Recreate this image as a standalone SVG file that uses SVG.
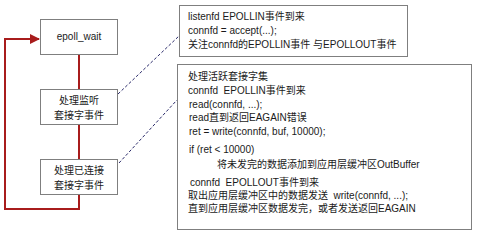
<svg xmlns="http://www.w3.org/2000/svg" width="478" height="240" viewBox="0 0 478 240">
  <defs>
    <style>
      .box { fill: #ffffff; stroke: #7f7f7f; stroke-width: 1; }
      .t { font-family: "Liberation Sans", "Noto Sans CJK SC", sans-serif; font-size: 10px; fill: #1a1a1a; white-space: pre; }
      .c { text-anchor: middle; }
      .flow { fill: none; stroke: #a81c1c; stroke-width: 2; }
      .dash { fill: none; stroke: #2a2a6a; stroke-width: 1; stroke-dasharray: 3 2; }
    </style>
    <marker id="arrow" markerWidth="10" markerHeight="10" refX="9" refY="5" orient="auto" markerUnits="userSpaceOnUse">
      <path d="M0,0 L10,5 L0,10 Z" fill="#a81c1c"/>
    </marker>
  </defs>

  <rect width="478" height="240" fill="#ffffff"/>

  <!-- connectors -->
  <g id="connectors">
    <line class="flow" x1="79" y1="54" x2="79" y2="89"/>
    <line class="flow" x1="79" y1="124" x2="79" y2="159"/>
    <path class="flow" d="M79,194 V209 H5 V39 H39" marker-end="url(#arrow)"/>
    <line class="dash" x1="118" y1="94" x2="179" y2="36"/>
    <line class="dash" x1="119" y1="163" x2="177" y2="100"/>
  </g>

  <g id="epoll_wait">
    <rect class="box" x="40.5" y="19.5" width="77" height="35"/>
    <text class="t c" x="79" y="40">epoll_wait</text>
  </g>

  <g id="handle_listen">
    <rect class="box" x="40.5" y="89.5" width="77" height="35"/>
    <text class="t c" x="79" y="104">处理监听</text>
    <text class="t c" x="79" y="119">套接字事件</text>
  </g>

  <g id="handle_conn">
    <rect class="box" x="40.5" y="159.5" width="77" height="35"/>
    <text class="t c" x="79" y="174">处理已连接</text>
    <text class="t c" x="79" y="189">套接字事件</text>
  </g>

  <g id="listen_note">
    <rect class="box" x="179.5" y="5.5" width="228" height="51"/>
    <text class="t" x="188" y="20">listenfd EPOLLIN事件到来</text>
    <text class="t" x="188" y="34">connfd = accept(...);</text>
    <text class="t" x="188" y="48">关注connfd的EPOLLIN事件 与EPOLLOUT事件</text>
  </g>

  <g id="conn_note">
    <rect class="box" x="177.5" y="64.5" width="294" height="165"/>
    <text class="t" x="188" y="80">处理活跃套接字集</text>
    <text class="t" x="188" y="94">connfd  EPOLLIN事件到来</text>
    <text class="t" x="189" y="108">read(connfd, ...);</text>
    <text class="t" x="189" y="121">read直到返回EAGAIN错误</text>
    <text class="t" x="189" y="135">ret = write(connfd, buf, 10000);</text>
    <text class="t" x="189" y="153">if (ret &lt; 10000)</text>
    <text class="t" x="217" y="168">将未发完的数据添加到应用层缓冲区OutBuffer</text>
    <text class="t" x="190" y="186">connfd  EPOLLOUT事件到来</text>
    <text class="t" x="188" y="199">取出应用层缓冲区中的数据发送  write(connfd, ...);</text>
    <text class="t" x="188" y="212">直到应用层缓冲区数据发完，或者发送返回EAGAIN</text>
  </g>
</svg>
